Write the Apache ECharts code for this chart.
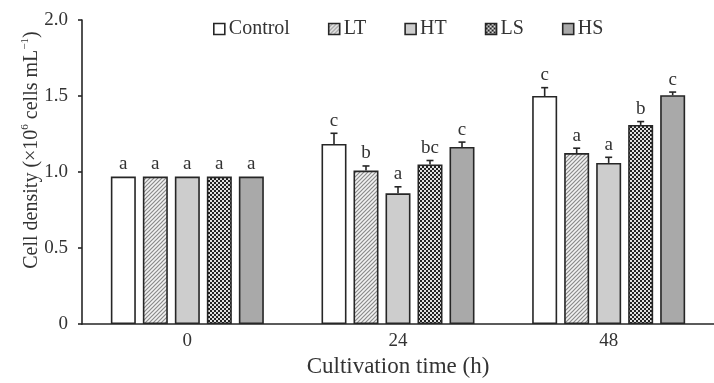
<!DOCTYPE html>
<html>
<head>
<meta charset="utf-8">
<script src="https://cdn.jsdelivr.net/npm/echarts@6/dist/echarts.min.js"></script>
<style>
  html, body { margin: 0; padding: 0; background: #fff; }
  #chart { width: 714px; height: 383px; }
</style>
</head>
<body>
<div id="chart"></div>
<script>
// cultivation time categories (h)
const categories = ["0", "24", "48"];
const seriesNames = ["Control", "LT", "HT", "LS", "HS"];

// cell density means (x10^6 cells/mL)
const controlVals = [0.97, 1.185, 1.50];
const ltVals = [0.97, 1.01, 1.125];
const htVals = [0.97, 0.86, 1.06];
const lsVals = [0.97, 1.05, 1.31];
const hsVals = [0.97, 1.165, 1.505];

// standard deviations (upper error bar)
const controlErr = [0, 0.07, 0.055];
const ltErr = [0, 0.03, 0.032];
const htErr = [0, 0.043, 0.037];
const lsErr = [0, 0.026, 0.022];
const hsErr = [0, 0.032, 0.021];

// significance letters
const controlSig = ["a", "c", "c"];
const ltSig = ["a", "b", "a"];
const htSig = ["a", "a", "a"];
const lsSig = ["a", "bc", "b"];
const hsSig = ["a", "c", "c"];

const yTicks = [0, 0.5, 1.0, 1.5, 2.0];

const allVals = [controlVals, ltVals, htVals, lsVals, hsVals];
const allErr = [controlErr, ltErr, htErr, lsErr, hsErr];
const allSig = [controlSig, ltSig, htSig, lsSig, hsSig];

// fill patterns drawn on small canvases
function makePattern(draw, size) {
    const c = document.createElement("canvas");
    c.width = size;
    c.height = size;
    draw(c.getContext("2d"));
    return { image: c, repeat: "repeat" };
}

const hatch = makePattern((ctx) => {
    ctx.fillStyle = "#f2f2f2";
    ctx.fillRect(0, 0, 4, 4);
    ctx.strokeStyle = "#8a8a8a";
    ctx.lineWidth = 1.2;
    ctx.beginPath();
    ctx.moveTo(0, 4);
    ctx.lineTo(4, 0);
    ctx.moveTo(-1, 1);
    ctx.lineTo(1, -1);
    ctx.moveTo(3, 5);
    ctx.lineTo(5, 3);
    ctx.stroke();
}, 4);

const checker = makePattern((ctx) => {
    ctx.fillStyle = "#e0e0e0";
    ctx.fillRect(0, 0, 4, 4);
    ctx.fillStyle = "#222";
    ctx.fillRect(0, 0, 2, 2);
    ctx.fillRect(2, 2, 2, 2);
}, 4);

const fills = ["#ffffff", hatch, "#cdcdcd", checker, "#a9a9a9"];

const font = "Liberation Serif";
const barW = 25;
const barPitch = 32;

const barSeries = seriesNames.map((name, i) => ({
    name: name,
    type: "bar",
    barWidth: barW,
    barGap: "28%",
    data: allVals[i],
    itemStyle: {
        color: fills[i],
        borderColor: "#262626",
        borderWidth: 1.6,
    },
}));

// error bars + letters
const errData = [];
seriesNames.forEach((name, i) => {
    categories.forEach((cat, j) => {
        errData.push([j, i, allVals[i][j], allErr[i][j], allSig[i][j]]);
    });
});

const errSeries = {
    type: "custom",
    z: 5,
    data: errData,
    encode: { x: 0, y: 2 },
    renderItem: (params, api) => {
        const cat = api.value(0);
        const idx = api.value(1);
        const val = api.value(2);
        const err = api.value(3);
        const sig = errData[params.dataIndex][4];
        const base = api.coord([cat, val]);
        const top = api.coord([cat, val + err]);
        const x = base[0] + (idx - 2) * barPitch;
        const children = [];
        if (err > 0) {
            children.push({
                type: "line",
                shape: { x1: x, y1: base[1], x2: x, y2: top[1] },
                style: { stroke: "#262626", lineWidth: 1.6 },
            });
            children.push({
                type: "line",
                shape: { x1: x - 3.5, y1: top[1], x2: x + 3.5, y2: top[1] },
                style: { stroke: "#262626", lineWidth: 1.6 },
            });
        }
        children.push({
            type: "text",
            style: {
                text: sig,
                x: x,
                y: top[1] - 3,
                textAlign: "center",
                textVerticalAlign: "bottom",
                font: "19px '" + font + "'",
                fill: "#333",
            },
        });
        return { type: "group", children: children };
    },
};

const chart = echarts.init(document.getElementById("chart"));

chart.setOption({
    animation: false,
    textStyle: { fontFamily: font },
    legend: {
        data: seriesNames,
        icon: "rect",
        left: 208,
        top: 14,
        itemWidth: 11,
        itemHeight: 11,
        itemGap: 38,
        textStyle: { fontSize: 20, color: "#333", fontFamily: font, padding: [0, 0, 0, -1] },
        itemStyle: { borderColor: "#262626", borderWidth: 1.6 },
    },
    grid: {
        left: 82,
        top: 20,
        width: 641,
        height: 309,
    },
    xAxis: {
        type: "category",
        data: categories,
        name: "Cultivation time (h)",
        nameLocation: "middle",
        nameGap: 29,
        nameTextStyle: { fontSize: 23, color: "#333", fontFamily: font },
        axisLine: { lineStyle: { color: "#262626", width: 1.6 } },
        axisTick: { alignWithLabel: true, inside: true, length: 4, lineStyle: { color: "#262626", width: 1.6 } },
        axisLabel: { fontSize: 19, color: "#333", margin: 7, fontFamily: font },
    },
    yAxis: {
        type: "value",
        min: yTicks[0],
        max: yTicks[yTicks.length - 1],
        interval: 0.5,
        name: "{t|Cell density (×10}{s|6}{t| cells mL}{s|−1}{t|)}",
        nameLocation: "middle",
        nameMoveOverlap: false,
        nameGap: 40,
        nameTextStyle: {
            padding: [0, 0, 0, 44],
            rich: {
                t: { fontSize: 20, color: "#333", fontFamily: font, lineHeight: 22, verticalAlign: "bottom" },
                s: { fontSize: 11, color: "#333", fontFamily: font, lineHeight: 22, verticalAlign: "top" },
            },
        },
        axisLine: { show: true, lineStyle: { color: "#262626", width: 1.6 } },
        axisTick: { show: true, length: 4, lineStyle: { color: "#262626", width: 1.6 } },
        axisLabel: {
            fontSize: 19,
            color: "#333",
            margin: 14,
            fontFamily: font,
            formatter: (v) => (v === 0 ? "0" : v.toFixed(1)),
        },
        splitLine: { show: false },
    },
    series: [...barSeries, errSeries],
});
</script>
</body>
</html>
